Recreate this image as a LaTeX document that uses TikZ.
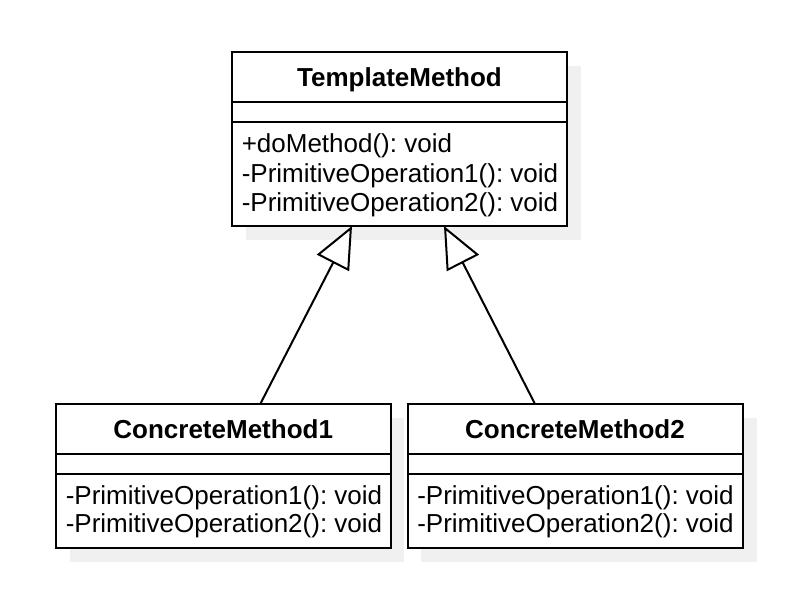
\documentclass[tikz,border=0pt]{standalone}
\usepackage{fontspec}
\setmainfont{Liberation Sans}
\usetikzlibrary{arrows.meta,fit,calc}
\definecolor{shadowgray}{RGB}{240,240,240}
\frenchspacing
\tikzset{
  box/.style={draw=black, line width=1.5pt, fill=white, inner sep=0pt, outer sep=0pt},
  shadowbox/.style={fill=shadowgray, draw=none},
  classtitle/.style={font=\fontsize{19.5}{22}\selectfont\bfseries, inner sep=0pt, anchor=base},
  member/.style={font=\fontsize{19.5}{22}\selectfont\frenchspacing, inner sep=0pt, anchor=base west},
  divider/.style={line width=1.5pt},
  inherit/.style={line width=1.5pt, -{Triangle[length=31.2pt, width=27pt, fill=white, line width=1.5pt]}}
}
\begin{document}
\begin{tikzpicture}[x=0.75pt,y=-0.75pt]
\useasboundingbox (0,0) rectangle (808,604);
% shadows
\fill[shadowgray] (246,66) rectangle (581,240);
\fill[shadowgray] (70,418) rectangle (404,562);
\fill[shadowgray] (421,418) rectangle (757,562);
% TemplateMethod
\node[box, fit={(232,52)(567,226)}] (tm) {};
\draw[divider] (tm.west |- 0,101.7) -- (tm.east |- 0,101.7);
\draw[divider] (tm.west |- 0,122) -- (tm.east |- 0,122);
\node[classtitle] (tmt) at (399.5,86) {TemplateMethod};
\node[member] (tm1) at (241.5,152) {+doMethod(): void};
\node[member] (tm2) at (241.5,182) {-PrimitiveOperation1(): void};
\node[member] (tm3) at (241.5,211.5) {-PrimitiveOperation2(): void};
% ConcreteMethod1
\node[box, fit={(56,404)(390.5,547.7)}] (c1) {};
\draw[divider] (c1.west |- 0,453.5) -- (c1.east |- 0,453.5);
\draw[divider] (c1.west |- 0,474) -- (c1.east |- 0,474);
\node[classtitle] (c1t) at (223.2,438) {ConcreteMethod1};
\node[member] (c11) at (65.5,504) {-PrimitiveOperation1(): void};
\node[member] (c12) at (65.5,532.3) {-PrimitiveOperation2(): void};
% ConcreteMethod2
\node[box, fit={(407.5,404)(742.5,547.7)}] (c2) {};
\draw[divider] (c2.west |- 0,453.5) -- (c2.east |- 0,453.5);
\draw[divider] (c2.west |- 0,474) -- (c2.east |- 0,474);
\node[classtitle] (c2t) at (575,438) {ConcreteMethod2};
\node[member] (c21) at (417,504) {-PrimitiveOperation1(): void};
\node[member] (c22) at (417,532.3) {-PrimitiveOperation2(): void};
% inheritance
\draw[inherit] ($(c1.north)+(37,0)$) -- ($(tm.south)+(-47.5,0)$);
\draw[inherit] ($(c2.north)+(-40,0)$) -- ($(tm.south)+(44.5,0)$);
\end{tikzpicture}
\end{document}
